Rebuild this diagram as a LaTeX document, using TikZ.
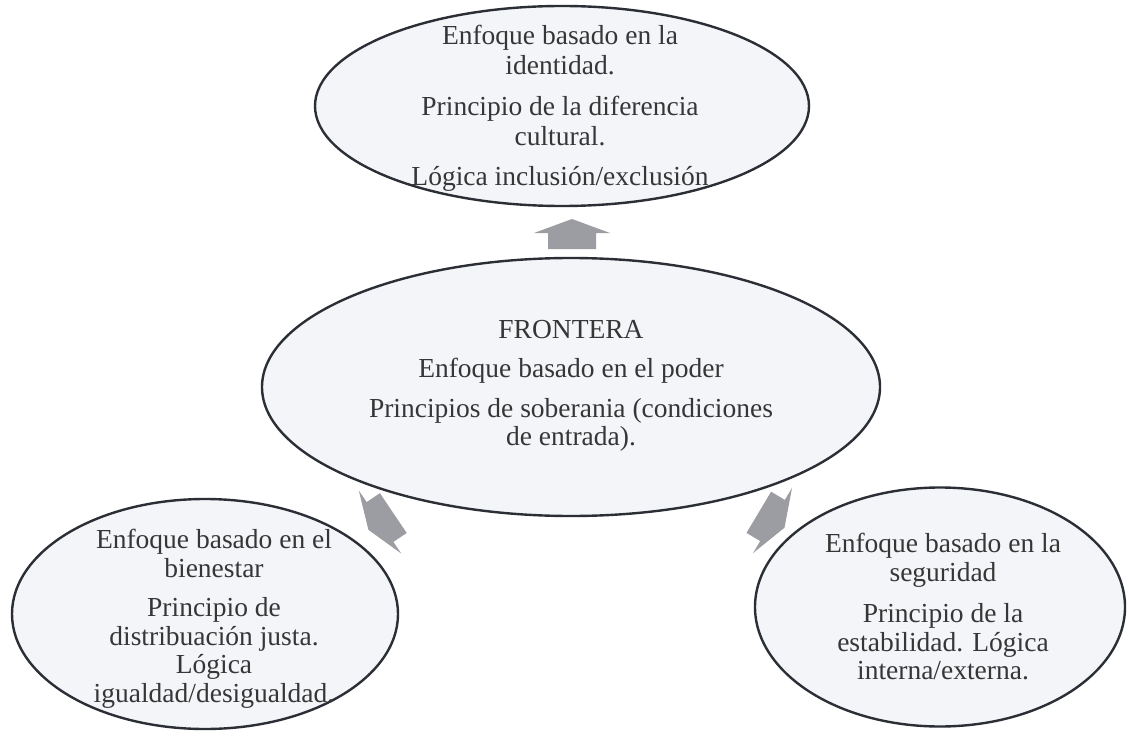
\documentclass[tikz,border=0pt]{standalone}
\usepackage{fontspec}
\setmainfont{Liberation Serif}
\usetikzlibrary{shapes.geometric}
\definecolor{efill}{HTML}{F3F5F8}
\definecolor{eline}{HTML}{2B2F35}
\definecolor{afill}{HTML}{9C9DA2}
\definecolor{tcol}{HTML}{363636}
\begin{document}
\begin{tikzpicture}[x=1pt,y=-1pt,
  bubble/.style={ellipse, draw=eline, fill=efill, line width=2.4pt, inner sep=0pt},
  txt/.style={align=center, text=tcol, font=\fontsize{27.5}{28.5}\selectfont, inner sep=0pt, anchor=north},
  blockarrow/.style={fill=afill}]
\useasboundingbox (0,0) rectangle (1129,738);
\fill[white] (0,0) rectangle (1129,738);
% block arrows (drawn under the ellipses)
\fill[blockarrow] (572,219) -- (534,233) -- (548,233) -- (548,249) -- (596,249) -- (596,233) -- (610,233) -- cycle;
\fill[blockarrow] (368.4,529.8) -- (358.8,490.5) -- (366.6,502.1) -- (379.9,493.2) -- (406.7,533.0) -- (393.4,541.9) -- (401.2,553.5) -- cycle;
\fill[blockarrow] (784.5,527.7) -- (792.0,487.9) -- (784.8,499.9) -- (771.1,491.7) -- (746.5,532.9) -- (760.2,541.1) -- (753.0,553.1) -- cycle;
% ellipses
\node[bubble, minimum width=494, minimum height=200] (top) at (562,106) {};
\node[bubble, minimum width=618, minimum height=258] (center) at (571,387) {};
\node[bubble, minimum width=386, minimum height=230] (left) at (205,614) {};
\node[bubble, minimum width=370, minimum height=239] (right) at (940,607) {};
% texts
\node[txt] (ttop) at (560,25) {Enfoque basado en la\\[1.5pt]identidad.\\[12pt]Principio de la diferencia\\[1.5pt]cultural.\\[12pt]Lógica inclusión/exclusión};
\node[txt] (tcenter) at (571,320) {FRONTERA\\[11pt]Enfoque basado en el poder\\[11pt]Principios de soberania (condiciones\\de entrada).};
\node[txt] (tleft) at (214,529) {Enfoque basado en el\\bienestar\\[11pt]Principio de\\distribuación justa.\\Lógica\\igualdad/desigualdad.};
\node[txt] (tright) at (943,533) {Enfoque basado en la\\seguridad\\[13pt]Principio de la\\estabilidad. Lógica\\interna/externa.};
\end{tikzpicture}
\end{document}
